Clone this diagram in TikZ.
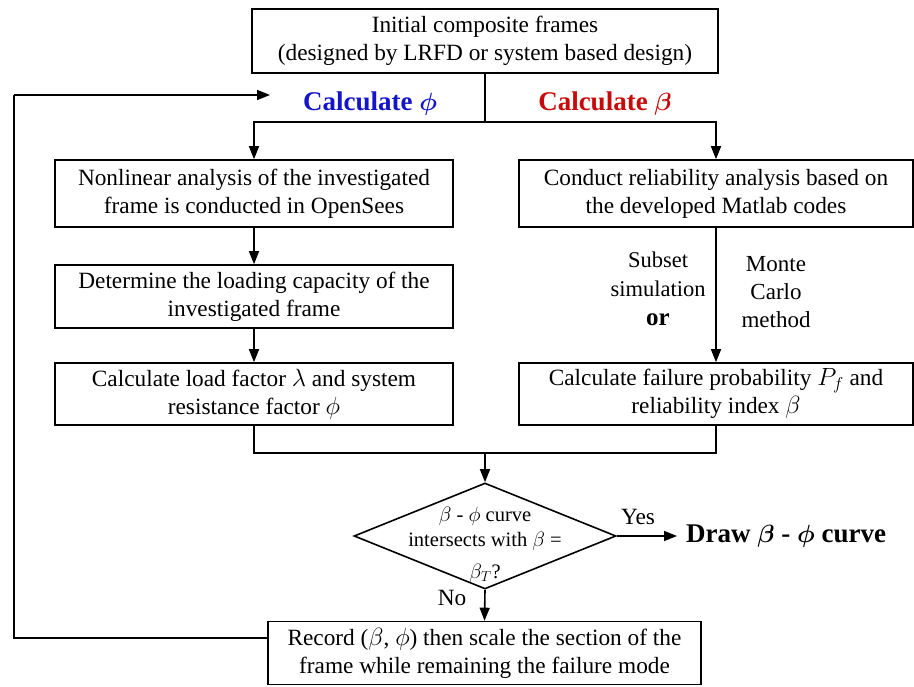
\documentclass[tikz,border=0pt]{standalone}
\usepackage[no-math]{fontspec}
\setmainfont{Liberation Serif}
\usepackage{bm}
\usetikzlibrary{arrows.meta,shapes.geometric}
\definecolor{phiblue}{RGB}{20,20,200}
\definecolor{betared}{RGB}{200,10,10}
\begin{document}
\begin{tikzpicture}[x=1pt,y=-1pt,
  every node/.style={font=\fontsize{23.3}{28}\selectfont},
  stepbox/.style={draw,line width=1.6pt,align=center,inner sep=0pt},
  link/.style={line width=1.6pt},
  arr/.style={line width=1.6pt,-{Triangle[length=13pt,width=10pt]}},
  heading/.style={font=\bfseries\fontsize{27}{30}\selectfont}]
\useasboundingbox (0,0) rectangle (914,687);

% boxes
\node[stepbox,minimum width=466,minimum height=64] (top) at (485,41)
  {Initial composite frames\\(designed by LRFD or system based design)};
\node[stepbox,minimum width=398,minimum height=67] (L1) at (254,193.5)
  {Nonlinear analysis of the investigated\\frame is conducted in OpenSees};
\node[stepbox,minimum width=398,minimum height=63] (L2) at (254,296.5)
  {Determine the loading capacity of the\\investigated frame};
\node[stepbox,minimum width=398,minimum height=62] (L3) at (254,394)
  {Calculate load factor $\lambda$ and system\\resistance factor $\phi$};
\node[stepbox,minimum width=394,minimum height=67] (R1) at (716,193.5)
  {Conduct reliability analysis based on\\the developed Matlab codes};
\node[stepbox,minimum width=394,minimum height=62] (R3) at (716,394)
  {Calculate failure probability $P_f$ and\\reliability index $\beta$};
\node[diamond,draw,line width=1.6pt,minimum width=262,minimum height=106,inner sep=0pt] (dec) at (485,536) {};
\node[align=center,font=\fontsize{20.5}{25}\selectfont] (dectext) at (485,545)
  {$\beta$ - $\phi$ curve\\intersects with $\beta$ =\\[7pt]$\beta_T$?};
\node[stepbox,minimum width=433,minimum height=63] (rec) at (484.5,653)
  {Record ($\beta$, $\phi$) then scale the section of the\\frame while remaining the failure mode};
\node[anchor=west,heading,inner ysep=0pt,inner xsep=9pt] (draw) at (677,536)
  {Draw $\bm{\beta}$ - $\bm{\phi}$ curve};

% headings
\node[heading,text=phiblue] (hphi) at (370,104) {Calculate $\bm{\phi}$};
\node[heading,text=betared] (hbeta) at (605,104) {Calculate $\bm{\beta}$};

% method labels
\node[align=center,font=\fontsize{22.5}{29}\selectfont] (sub) at (658,289)
  {Subset\\simulation\\\textbf{\fontsize{25}{29}\selectfont or}};
\node[align=center,font=\fontsize{23}{28}\selectfont] (mc) at (776,292)
  {Monte\\Carlo\\method};

% connectors
\coordinate (split) at (485,122);
\coordinate (merge) at (485,453);
\draw[link] (top.south) -- (split);
\draw[arr] (split) -| (L1.north);
\draw[arr] (split) -| (R1.north);
\draw[arr] (L1) -- (L2);
\draw[arr] (L2) -- (L3);
\draw[arr] (R1) -- (R3);
\draw[link] (L3.south) |- (merge) -| (R3.south);
\draw[arr] (merge) -- (dec.north);
\draw[arr] (dec.east) -- (draw.west);
\node (yes) at (638,517) {Yes};
\draw[arr] (dec.south) -- (rec.north);
\node (no) at (452,598) {No};
\coordinate (loopin) at (268,638);
\coordinate (loopc) at (14,95);
\coordinate (loopend) at (270,95);
\draw[link] (loopin) -| (loopc);
\draw[arr] (loopc) -- (loopend);
\end{tikzpicture}
\end{document}
